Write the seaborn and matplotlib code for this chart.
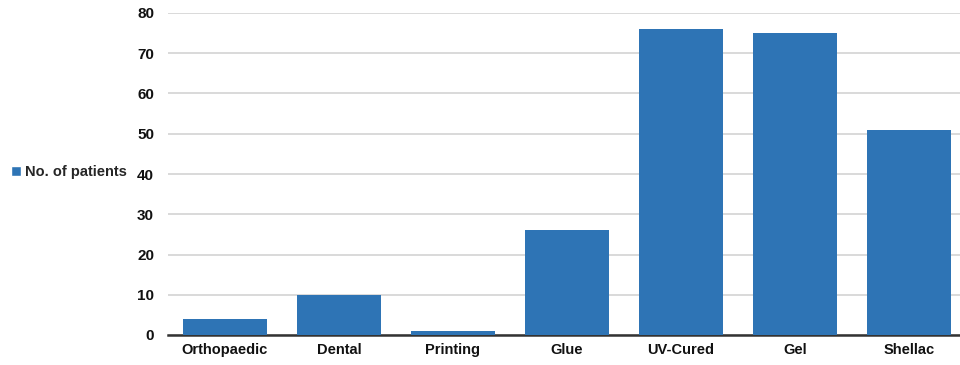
import matplotlib
matplotlib.use("Agg")
import matplotlib.pyplot as plt
import seaborn as sns
import pandas as pd
from matplotlib.patches import Patch

categories = ["Orthopaedic", "Dental", "Printing", "Glue", "UV-Cured", "Gel", "Shellac"]
patients = [4, 10, 1, 26, 76, 75, 51]
yticks = [0, 10, 20, 30, 40, 50, 60, 70, 80]
series_name = "No. of patients"

sns.set_theme(style="white")
plt.rcParams['font.family'] = ['Liberation Sans', 'DejaVu Sans']

df = pd.DataFrame({"cat": categories, "val": patients})
color = "#2e74b5"

fig = plt.figure(figsize=(9.6, 3.65), dpi=100)
ax = fig.add_axes([168/960, (365-335)/365, (966-168)/960, (335-13)/365])
sns.barplot(data=df, x="cat", y="val", color=color, width=0.73, saturation=1,
            linewidth=0, edgecolor="none", ax=ax, zorder=3)

ax.set_ylim(0, 80)
ax.set_yticks(yticks)
ax.set_yticklabels([str(t) for t in yticks], fontweight="bold", fontsize=11, color="#111111")
ax.set_xticklabels(categories, fontweight="bold", fontsize=10.5, color="#111111")
ax.set_xlabel("")
ax.set_ylabel("")
ax.yaxis.grid(True, color="#d3d3d3", linewidth=1.2, zorder=0)
ax.set_axisbelow(True)
for s in ["top", "right", "left"]:
    ax.spines[s].set_visible(False)
ax.spines["bottom"].set_color("#333333")
ax.spines["bottom"].set_linewidth(1.8)
ax.tick_params(axis="y", length=0, pad=10)
ax.tick_params(axis="x", length=0, pad=6)
ax.set_xlim(-0.5, 6.5)

leg = fig.legend(handles=[Patch(facecolor=color, label=series_name)],
                 loc="center left", bbox_to_anchor=(-0.002, (365-172)/365),
                 frameon=False, handlelength=0.7, handleheight=0.7, handletextpad=0.25,
                 prop={"weight": "bold", "size": 10.5})

fig.savefig("out.png", dpi=100)
